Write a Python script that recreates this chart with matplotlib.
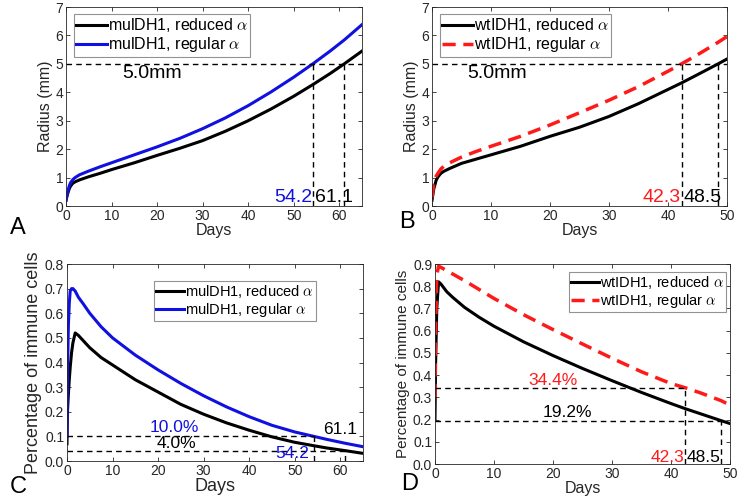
import matplotlib
matplotlib.use('agg')
import matplotlib.pyplot as plt

plt.rcParams['font.family'] = ['Liberation Sans', 'DejaVu Sans']
plt.rcParams['mathtext.fontset'] = 'cm'

# Panel A: mutant IDH1 tumour radius (mm)
days_a = [0, 0.3, 0.7, 1, 1.5, 2, 3, 5, 7.5, 10, 15, 20, 25, 30, 35, 40, 45, 50, 54.2, 58, 61.1, 65]
rad_a_reduced = [0.2, 0.4, 0.6, 0.7, 0.8, 0.85, 0.92, 1.03, 1.15, 1.28, 1.52, 1.78, 2.03, 2.3, 2.63, 3.0, 3.41, 3.86, 4.27, 4.66, 5.0, 5.45]
rad_a_regular = [0.2, 0.45, 0.7, 0.82, 0.93, 1.0, 1.1, 1.23, 1.38, 1.52, 1.8, 2.08, 2.38, 2.72, 3.1, 3.53, 4.01, 4.53, 5.0, 5.45, 5.84, 6.38]

# Panel B: wild-type IDH1 tumour radius (mm)
days_b = [0, 0.3, 0.7, 1, 1.5, 2, 3, 5, 7.5, 10, 15, 20, 25, 30, 35, 40, 42.3, 45, 48.5, 50]
rad_b_reduced = [0.2, 0.6, 0.9, 1.02, 1.15, 1.22, 1.32, 1.5, 1.65, 1.8, 2.1, 2.45, 2.77, 3.15, 3.6, 4.1, 4.33, 4.62, 5.0, 5.17]
rad_b_regular = [0.3, 0.8, 1.05, 1.15, 1.3, 1.4, 1.52, 1.72, 1.92, 2.1, 2.45, 2.85, 3.28, 3.72, 4.2, 4.74, 5.0, 5.32, 5.76, 5.96]

# Panel C: mutant IDH1 fraction of immune cells
days_c = [0, 0.1, 0.3, 0.5, 0.7, 1, 1.3, 1.8, 2.5, 3.5, 5, 7.5, 10, 15, 20, 25, 30, 35, 40, 45, 50, 54.2, 57, 61.1, 65]
imm_c_reduced = [0.07, 0.2, 0.27, 0.33, 0.38, 0.44, 0.48, 0.52, 0.51, 0.49, 0.46, 0.42, 0.39, 0.33, 0.28, 0.23, 0.19, 0.155, 0.125, 0.098, 0.076, 0.062, 0.053, 0.042, 0.031]
imm_c_regular = [0.1, 0.35, 0.55, 0.64, 0.69, 0.7, 0.7, 0.69, 0.665, 0.64, 0.6, 0.545, 0.5, 0.43, 0.37, 0.315, 0.265, 0.22, 0.18, 0.145, 0.118, 0.1, 0.088, 0.072, 0.058]

# Panel D: wild-type IDH1 fraction of immune cells
days_d = [0, 0.1, 0.3, 0.6, 1, 2, 3, 5, 7.5, 10, 15, 20, 25, 30, 35, 40, 42.3, 45, 48.5, 50]
imm_d_reduced = [0.2, 0.45, 0.7, 0.82, 0.81, 0.775, 0.75, 0.705, 0.66, 0.62, 0.55, 0.488, 0.43, 0.375, 0.322, 0.272, 0.25, 0.226, 0.195, 0.182]
imm_d_regular = [0.3, 0.6, 0.85, 0.89, 0.885, 0.87, 0.855, 0.825, 0.785, 0.745, 0.672, 0.605, 0.54, 0.476, 0.415, 0.362, 0.344, 0.32, 0.285, 0.265]

gray = '#262626'
blue = '#1010e0'
red = '#ff1a1a'


def style(ax, xmax, ymax, yticks):
    ax.set_xlim(0, xmax)
    ax.set_ylim(0, ymax)
    ax.set_yticks(yticks)
    ax.tick_params(direction='in', top=True, right=True, labelsize=10,
                   colors=gray, length=3, width=0.6, pad=2)
    for s in ax.spines.values():
        s.set_color(gray)
        s.set_linewidth(0.6)
    ax.set_xlabel('Days', fontsize=11.5, color=gray, labelpad=0)


def add_ax(l, t, r, b):
    return fig.add_axes([l / 738, 1 - b / 498, (r - l) / 738, (b - t) / 498])


def legend(ax, loc, size, anchor, pad=0):
    lg = ax.legend(loc=loc, fontsize=size, frameon=True, fancybox=False,
                   handlelength=1.9, handletextpad=0.05, borderpad=0.15,
                   labelspacing=0.05, borderaxespad=pad, bbox_to_anchor=anchor)
    lg.get_frame().set_edgecolor('#777777')
    lg.get_frame().set_linewidth(0.8)
    return lg


fig = plt.figure(figsize=(7.38, 4.98), dpi=100)
dash = dict(color='k', ls=(0, (4, 3)), lw=1.0)
rdash = (0, (3.8, 2.2))

# ---- A
ax = add_ax(66, 7, 362, 206)
ax.plot(days_a, rad_a_reduced, color='k', lw=2.2, label=r'mulDH1, reduced $\alpha$')
ax.plot(days_a, rad_a_regular, color=blue, lw=2.2, label=r'mulDH1, regular $\alpha$')
ax.axhline(5, **dash)
ax.plot([54.2, 54.2], [0, 5], **dash)
ax.plot([61.1, 61.1], [0, 5], **dash)
ax.text(19, 4.66, '5.0mm', fontsize=14, ha='center', va='center')
ax.text(54.1, 0.3, '54.2', fontsize=14, ha='right', va='center', color=blue)
ax.text(54.6, 0.3, '61.1', fontsize=14, ha='left', va='center', color='k')
style(ax, 65, 7, range(0, 8))
ax.set_ylabel('Radius (mm)', fontsize=11.5, color=gray, labelpad=2)
legend(ax, 'upper left', 11.5, (0.027, 0.965))
fig.text(10 / 738, 1 - 228 / 498, 'A', fontsize=17, va='center')

# ---- B
ax = add_ax(432, 7, 727, 206)
ax.plot(days_b, rad_b_reduced, color='k', lw=2.2, label=r'wtIDH1, reduced $\alpha$')
ax.plot(days_b, rad_b_regular, color=red, lw=2.5, ls=rdash, label=r'wtIDH1, regular $\alpha$')
ax.axhline(5, **dash)
ax.plot([42.3, 42.3], [0, 5], **dash)
ax.plot([48.5, 48.5], [0, 5], **dash)
ax.text(11, 4.66, '5.0mm', fontsize=14, ha='center', va='center')
ax.text(42.2, 0.3, '42.3', fontsize=14, ha='right', va='center', color=red)
ax.text(42.6, 0.3, '48.5', fontsize=14, ha='left', va='center', color='k')
style(ax, 50, 7, range(0, 8))
ax.set_ylabel('Radius (mm)', fontsize=11.5, color=gray, labelpad=2)
legend(ax, 'upper left', 11.5, (0.027, 0.965))
fig.text(399 / 738, 1 - 222 / 498, 'B', fontsize=17, va='center')

# ---- C
ax = add_ax(67, 264, 363, 461)
ax.plot(days_c, imm_c_reduced, color='k', lw=2.2, label=r'mulDH1, reduced $\alpha$')
ax.plot(days_c, imm_c_regular, color=blue, lw=2.2, label=r'mulDH1, regular $\alpha$')
ax.plot([0, 54.2], [0.1, 0.1], **dash)
ax.plot([0, 61.1], [0.04, 0.04], **dash)
ax.plot([54.2, 54.2], [0, 0.1], **dash)
ax.plot([61.1, 61.1], [0, 0.04], **dash)
ax.text(23.5, 0.135, '10.0%', fontsize=12.5, ha='center', va='center', color=blue)
ax.text(24, 0.072, '4.0%', fontsize=12.5, ha='center', va='center', color='k')
ax.text(60, 0.126, '61.1', fontsize=12.5, ha='center', va='center', color='k')
ax.text(49.4, 0.032, '54.2', fontsize=12.5, ha='center', va='center', color=blue)
style(ax, 65, 0.8, [0, 0.1, 0.2, 0.3, 0.4, 0.5, 0.6, 0.7, 0.8])
ax.set_ylabel('Percentage of immune cells', fontsize=13, color=gray, labelpad=2)
ax.set_xlabel('Days', fontsize=13, color=gray, labelpad=0)
legend(ax, 'upper right', 10.5, (0.84, 0.915))
fig.text(10 / 738, 1 - 487 / 498, 'C', fontsize=17, va='center')

# ---- D
ax = add_ax(435, 264, 730, 464)
ax.plot(days_d, imm_d_reduced, color='k', lw=2.2, label=r'wtIDH1, reduced $\alpha$')
ax.plot(days_d, imm_d_regular, color=red, lw=2.5, ls=rdash, label=r'wtIDH1, regular $\alpha$')
ax.plot([0, 42.3], [0.344, 0.344], **dash)
ax.plot([0, 48.5], [0.192, 0.192], **dash)
ax.plot([42.3, 42.3], [0, 0.344], **dash)
ax.plot([48.5, 48.5], [0, 0.192], **dash)
ax.text(20, 0.378, '34.4%', fontsize=12.5, ha='center', va='center', color=red)
ax.text(22.5, 0.232, '19.2%', fontsize=12.5, ha='center', va='center', color='k')
ax.text(42.2, 0.03, '42.3', fontsize=12.5, ha='right', va='center', color=red)
ax.text(42.6, 0.03, '48.5', fontsize=12.5, ha='left', va='center', color='k')
style(ax, 50, 0.9, [0, 0.1, 0.2, 0.3, 0.4, 0.5, 0.6, 0.7, 0.8, 0.9])
ax.set_ylabel('Percentage of immune cells', fontsize=11, color=gray, labelpad=2)
legend(ax, 'upper right', 10.5, (0.985, 0.96))
fig.text(401 / 738, 1 - 484 / 498, 'D', fontsize=17, va='center')

fig.savefig('out.png', dpi=100)
plt.close(fig)
